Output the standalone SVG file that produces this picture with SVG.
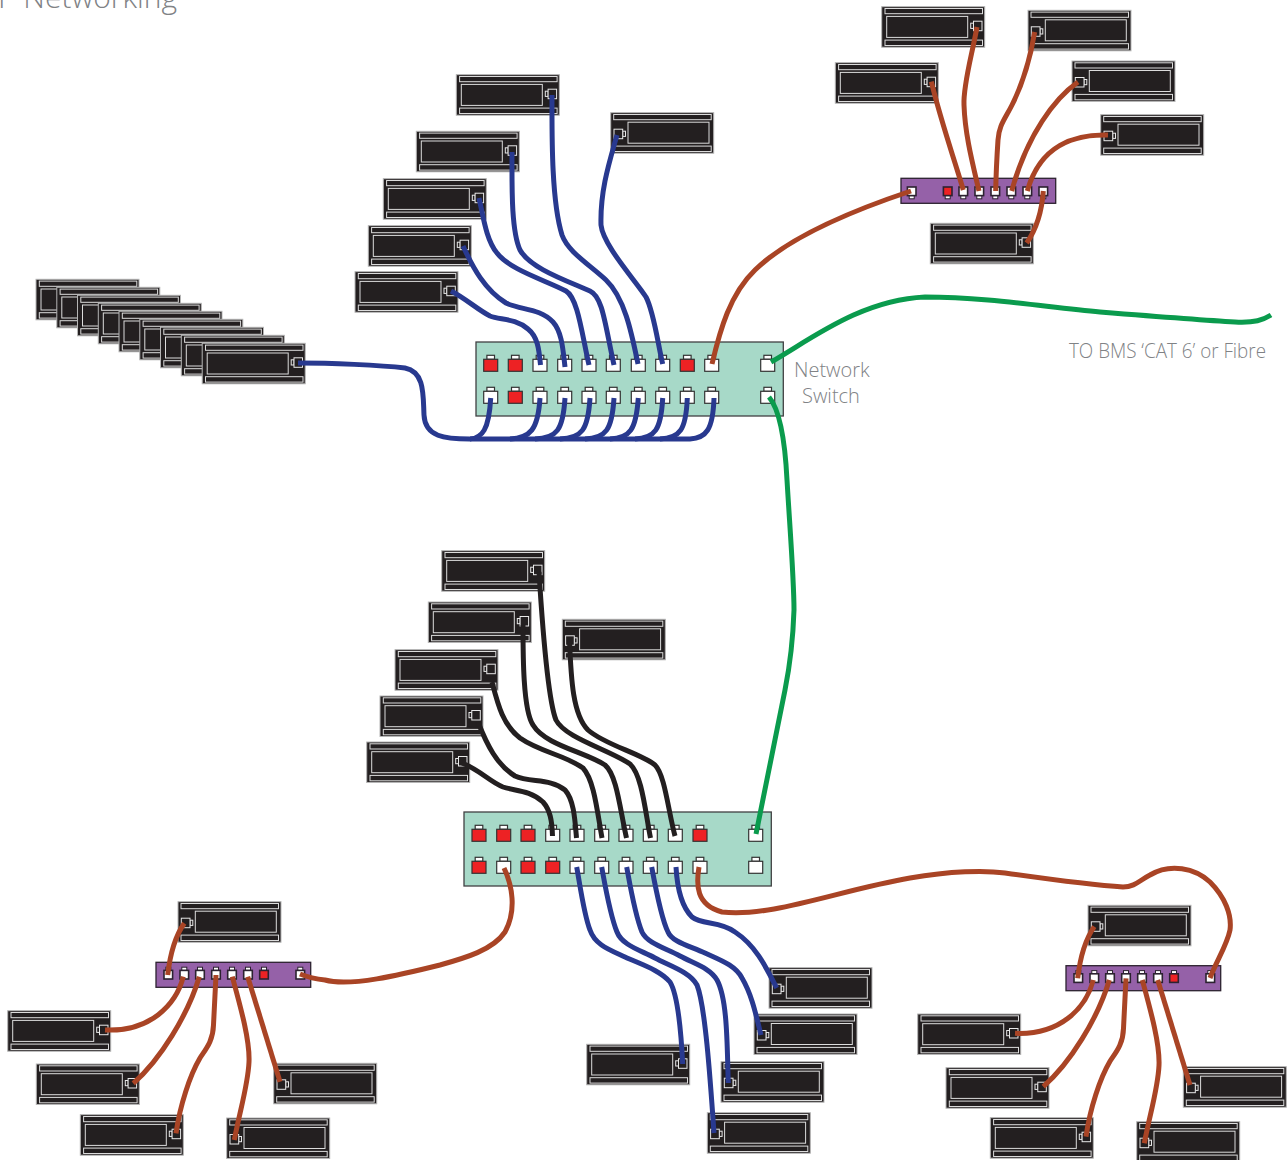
<svg xmlns="http://www.w3.org/2000/svg" width="1287" height="1160" viewBox="0 0 1287 1160">
<style>
.case{fill:#231f20;stroke:#b5b5b5;stroke-width:1}
.in{fill:none;stroke:#dcdcdc;stroke-width:1}
.pt{fill:#231f20;stroke:#e8e8e8;stroke-width:1}
.sw{fill:#a7d9c8;stroke:#414042;stroke-width:1.3}
.hub{fill:#9561a8;stroke:#2c2230;stroke-width:1.3}
.pw{fill:#fff;stroke:#333;stroke-width:1.2}
.pr{fill:#ed2224;stroke:#333;stroke-width:1.2}
.hw{fill:#fff;stroke:#2c2230;stroke-width:1.6}
.hr{fill:#ed2224;stroke:#2c2230;stroke-width:1.6}
.ht{fill:#fff;stroke:#2c2230;stroke-width:1}
.w{fill:none;stroke-width:5}
.blue{stroke:#28398f}.brown{stroke:#a94425}.black{stroke:#231f20}.green{stroke:#0a9b4d}
text{font-family:"Open Sans","Noto Sans","Liberation Sans",sans-serif;font-weight:300;fill:#808285}
</style>
<defs>
<g id="dev-r">
<rect class="case" x="0" y="0" width="103" height="40.5"/>
<rect class="in" x="3.3" y="1.8" width="97.5" height="5.2"/>
<rect class="in" x="5" y="9.7" width="81" height="21"/>
<rect class="in" x="3.3" y="33.4" width="97.5" height="5.4"/>
<rect class="pt" x="89" y="16.5" width="2.8" height="5.2"/>
<rect class="pt" x="91.8" y="14.5" width="8.5" height="9.5"/>
</g>
<g id="dev-l">
<rect class="case" x="0" y="0" width="103" height="40.5"/>
<rect class="in" x="3" y="1.8" width="97.5" height="5.2"/>
<rect class="in" x="17.3" y="9.5" width="81" height="21"/>
<rect class="in" x="3" y="33.4" width="97.5" height="5.4"/>
<rect class="pt" x="12" y="18.5" width="2.8" height="5.2"/>
<rect class="pt" x="3.3" y="16.5" width="8.7" height="9.5"/>
</g>
<g id="sp-w"><rect class="pw" x="-3.8" y="-4" width="7.6" height="4"/><rect class="pw" x="-7" y="0" width="14" height="12"/></g>
<g id="sp-r"><rect class="pw" x="-3.8" y="-4" width="7.6" height="4"/><rect class="pr" x="-7" y="0" width="14" height="12"/></g>
<g id="hp-w"><rect class="ht" x="-2.5" y="-3.2" width="5" height="3.2"/><rect class="hw" x="-4.3" y="0" width="8.6" height="8.6"/></g>
<g id="hp-r"><rect class="ht" x="-2.5" y="-3.2" width="5" height="3.2"/><rect class="hr" x="-4.3" y="0" width="8.6" height="8.6"/></g>
<g id="hq-w"><rect class="ht" x="-2.5" y="8.6" width="5" height="3.2"/><rect class="hw" x="-4.3" y="0" width="8.6" height="8.6"/></g>
<g id="hq-r"><rect class="ht" x="-2.5" y="8.6" width="5" height="3.2"/><rect class="hr" x="-4.3" y="0" width="8.6" height="8.6"/></g>
</defs>

<text id="title" x="177" y="8" font-size="30" text-anchor="end">IP Networking</text>

<g id="stack">
<g id="stack-1"><use href="#dev-r" x="36" y="279.3"/></g>
<g id="stack-2"><use href="#dev-r" x="56.8" y="287.3"/></g>
<g id="stack-3"><use href="#dev-r" x="77.5" y="295.3"/></g>
<g id="stack-4"><use href="#dev-r" x="98.3" y="303.3"/></g>
<g id="stack-5"><use href="#dev-r" x="119" y="311.3"/></g>
<g id="stack-6"><use href="#dev-r" x="139.8" y="319.3"/></g>
<g id="stack-7"><use href="#dev-r" x="160.5" y="327.3"/></g>
<g id="stack-8"><use href="#dev-r" x="181.3" y="335.3"/></g>
<g id="stack-9"><use href="#dev-r" x="202.2" y="343.3"/></g>
</g>

<g id="dev-a1"><use href="#dev-r" x="881.7" y="6.7"/></g>
<g id="dev-a2"><use href="#dev-l" x="1028" y="10.3"/></g>
<g id="dev-a3"><use href="#dev-r" x="835.3" y="62.7"/></g>
<g id="dev-a4"><use href="#dev-l" x="1072" y="61"/></g>
<g id="dev-a5"><use href="#dev-l" x="1100.7" y="114.7"/></g>
<g id="dev-a6"><use href="#dev-r" x="930.3" y="223.3"/></g>

<g id="dev-b1"><use href="#dev-r" x="456.3" y="74.7"/></g>
<g id="dev-b2"><use href="#dev-l" x="610.7" y="112.7"/></g>
<g id="dev-b3"><use href="#dev-r" x="416.3" y="131.3"/></g>
<g id="dev-b4"><use href="#dev-r" x="383.3" y="178.7"/></g>
<g id="dev-b5"><use href="#dev-r" x="368.3" y="225.7"/></g>
<g id="dev-b6"><use href="#dev-r" x="355" y="271.7"/></g>

<g id="dev-c1"><use href="#dev-r" x="441.7" y="550.7"/></g>
<g id="dev-c2"><use href="#dev-r" x="428.3" y="602"/></g>
<g id="dev-c3"><use href="#dev-l" x="562.3" y="619.3"/></g>
<g id="dev-c4"><use href="#dev-r" x="395" y="649.7"/></g>
<g id="dev-c5"><use href="#dev-r" x="380" y="696"/></g>
<g id="dev-c6"><use href="#dev-r" x="366.7" y="742"/></g>

<g id="dev-d1"><use href="#dev-l" x="769" y="967.7"/></g>
<g id="dev-d2"><use href="#dev-l" x="754" y="1014"/></g>
<g id="dev-d3"><use href="#dev-r" x="586.7" y="1044.3"/></g>
<g id="dev-d4"><use href="#dev-l" x="721" y="1061.7"/></g>
<g id="dev-d5"><use href="#dev-l" x="707.3" y="1112.7"/></g>

<g id="dev-e1"><use href="#dev-l" x="178" y="901.7"/></g>
<g id="dev-e2"><use href="#dev-r" x="7.7" y="1010.7"/></g>
<g id="dev-e3"><use href="#dev-r" x="36.3" y="1064"/></g>
<g id="dev-e4"><use href="#dev-r" x="80.3" y="1114.7"/></g>
<g id="dev-e5"><use href="#dev-l" x="273.7" y="1063.3"/></g>
<g id="dev-e6"><use href="#dev-l" x="226.7" y="1118"/></g>

<g id="dev-f1"><use href="#dev-l" x="1088" y="905.3"/></g>
<g id="dev-f2"><use href="#dev-r" x="917.7" y="1014"/></g>
<g id="dev-f3"><use href="#dev-r" x="946" y="1067.7"/></g>
<g id="dev-f4"><use href="#dev-r" x="990.3" y="1117.7"/></g>
<g id="dev-f5"><use href="#dev-l" x="1183.3" y="1066.7"/></g>
<g id="dev-f6"><use href="#dev-l" x="1136.7" y="1121.7"/></g>

<g id="switch-1">
<rect class="sw" x="476" y="342" width="307.3" height="74"/>
<use href="#sp-r" x="490.7" y="359.3"/><use href="#sp-r" x="515.3" y="359.3"/><use href="#sp-w" x="540" y="359.3"/><use href="#sp-w" x="564.7" y="359.3"/><use href="#sp-w" x="589" y="359.3"/><use href="#sp-w" x="613.3" y="359.3"/><use href="#sp-w" x="638.3" y="359.3"/><use href="#sp-w" x="662.7" y="359.3"/><use href="#sp-r" x="687.3" y="359.3"/><use href="#sp-w" x="711.7" y="359.3"/><use href="#sp-w" x="767.7" y="359.3"/>
<use href="#sp-w" x="490.7" y="391.3"/><use href="#sp-r" x="515.3" y="391.3"/><use href="#sp-w" x="540" y="391.3"/><use href="#sp-w" x="564.7" y="391.3"/><use href="#sp-w" x="589" y="391.3"/><use href="#sp-w" x="613.3" y="391.3"/><use href="#sp-w" x="638.3" y="391.3"/><use href="#sp-w" x="662.7" y="391.3"/><use href="#sp-w" x="687.3" y="391.3"/><use href="#sp-w" x="711.7" y="391.3"/><use href="#sp-w" x="767.7" y="391.3"/>
</g>

<g id="switch-2">
<rect class="sw" x="464" y="812" width="307.3" height="74"/>
<use href="#sp-r" x="479" y="829.3"/><use href="#sp-r" x="503.7" y="829.3"/><use href="#sp-r" x="528" y="829.3"/><use href="#sp-w" x="552.7" y="829.3"/><use href="#sp-w" x="577" y="829.3"/><use href="#sp-w" x="601.7" y="829.3"/><use href="#sp-w" x="626" y="829.3"/><use href="#sp-w" x="650.3" y="829.3"/><use href="#sp-w" x="675.3" y="829.3"/><use href="#sp-r" x="700" y="829.3"/><use href="#sp-w" x="755.7" y="829.3"/>
<use href="#sp-r" x="479" y="861.3"/><use href="#sp-w" x="503.7" y="861.3"/><use href="#sp-r" x="528" y="861.3"/><use href="#sp-r" x="552.7" y="861.3"/><use href="#sp-w" x="577" y="861.3"/><use href="#sp-w" x="601.7" y="861.3"/><use href="#sp-w" x="626" y="861.3"/><use href="#sp-w" x="650.3" y="861.3"/><use href="#sp-w" x="675.3" y="861.3"/><use href="#sp-w" x="700" y="861.3"/><use href="#sp-w" x="755.7" y="861.3"/>
</g>

<g id="hub-a">
<rect class="hub" x="901" y="178.3" width="154.7" height="25"/>
<use href="#hq-w" x="911.7" y="187"/><use href="#hq-r" x="947.7" y="187"/><use href="#hq-w" x="963.3" y="187"/><use href="#hq-w" x="979.3" y="187"/><use href="#hq-w" x="995.3" y="187"/><use href="#hq-w" x="1011.3" y="187"/><use href="#hq-w" x="1027.3" y="187"/><use href="#hq-w" x="1043.3" y="187"/>
</g>
<g id="hub-e">
<rect class="hub" x="156" y="962.3" width="154.7" height="25"/>
<use href="#hp-w" x="168.3" y="970.4"/><use href="#hp-w" x="184.3" y="970.4"/><use href="#hp-w" x="200" y="970.4"/><use href="#hp-w" x="216" y="970.4"/><use href="#hp-w" x="232" y="970.4"/><use href="#hp-w" x="248" y="970.4"/><use href="#hp-r" x="264" y="970.4"/><use href="#hp-w" x="300.3" y="970.4"/>
</g>
<g id="hub-f">
<rect class="hub" x="1066" y="965.7" width="154.7" height="25"/>
<use href="#hp-w" x="1078.3" y="973.8"/><use href="#hp-w" x="1094.3" y="973.8"/><use href="#hp-w" x="1110" y="973.8"/><use href="#hp-w" x="1126" y="973.8"/><use href="#hp-w" x="1142" y="973.8"/><use href="#hp-w" x="1158" y="973.8"/><use href="#hp-r" x="1174" y="973.8"/><use href="#hp-w" x="1210.3" y="973.8"/>
</g>

<g id="connectors">
<g class="w brown">
<path d="M931.3 81.7C942 125 953 155 963.3 190"/>
<path d="M977 27C972 55 963 85 964 105C965 135 973 165 979 191"/>
<path d="M1034.7 32C1030 60 1022 85 1012 105C1005 119 999 125 998 140C997 155 996 175 995.7 191"/>
<path d="M1078 82C1055 98 1027 135 1011.7 191"/>
<path d="M1108 135C1075 134 1040 145 1027.3 191"/>
<path d="M1043.3 191C1042 210 1037 228 1026.7 243"/>
<path d="M911 191C860 208 790 236 755 270C730 294 720 330 712 364"/>
<path d="M504 868C512 885 517 910 505 932C493 950 465 958 440 965C400 975 350 987 325 980C315 979 305 976 300 974"/>
<path d="M699 867C696 885 696 905 722 912C770 918 840 890 910 878C950 871 985 870 1005 873C1040 878 1090 885 1123 887C1135 887 1140 880 1150 875C1170 863 1195 868 1210 882C1225 897 1232 915 1230 930C1227 945 1217 960 1210 978"/>
</g>
<g class="w brown" id="wires-e">
<path d="M184.3 923.3C176 935 170 955 167.7 975"/>
<path d="M183.3 976.7C176 1005 150 1032 105 1030"/>
<path d="M199.3 976.7C188 1015 160 1060 133.3 1083.3"/>
<path d="M216 975L213.5 1025C213 1042 205 1050 200 1058C190 1075 180 1105 176 1133.3"/>
<path d="M232.3 976.7C240 1005 250 1040 249 1062C248 1085 240 1110 234.3 1140"/>
<path d="M247.7 976.7L280 1081.7"/>
</g>
<g class="w brown" id="wires-f" transform="translate(910 3.3)">
<path d="M184.3 923.3C176 935 170 955 167.7 975"/>
<path d="M183.3 976.7C176 1005 150 1032 105 1030"/>
<path d="M199.3 976.7C188 1015 160 1060 133.3 1083.3"/>
<path d="M216 975L213.5 1025C213 1042 205 1050 200 1058C190 1075 180 1105 176 1133.3"/>
<path d="M232.3 976.7C240 1005 250 1040 249 1062C248 1085 240 1110 234.3 1140"/>
<path d="M247.7 976.7L280 1081.7"/>
</g>
<g class="w blue">
<path d="M552 95C552 130 551 200 562 235C568 252 590 265 606 280C625 298 632 335 638 364"/>
<path d="M512 152C512 185 511 230 520 250C530 268 565 280 590 291C603 297 605 325 614 365"/>
<path d="M479 198C483 215 486 240 497 253C510 270 545 280 566 291C578 298 582 335 589 365"/>
<path d="M463 246C473 268 485 290 506 303C520 310 540 308 553 322C562 332 563 350 565 367"/>
<path d="M451 291C465 298 478 310 490 316C500 320 515 318 528 329C538 337 539 350 540.5 365"/>
<path d="M617 135C610 160 600 190 601 225C603 245 635 280 646 297C654 312 658 345 662.7 364"/>
<path d="M298 363C330 363 380 365 405 368C425 372 423 395 424 415C425 437 445 439 470 439C482 438 489 430 490.7 398"/>
<path d="M470 439L690 439C706 438 713 430 714 398"/>
<path d="M510 439C530 438 538 430 540 398"/>
<path d="M535 439C557 438 563 430 565 398"/>
<path d="M560 439C582 438 588 430 590 398"/>
<path d="M585 439C606 438 612 430 614 398"/>
<path d="M610 439C630 438 636 430 638.3 398"/>
<path d="M635 439C655 438 661 430 662.7 398"/>
<path d="M660 439C680 438 686 430 687.3 398"/>
<path d="M576.7 867C580 885 584 915 590 930C595 945 610 950 625 957C640 964 660 970 670 982C678 995 681 1030 682.7 1064"/>
<path d="M601.7 867C605 885 610 915 617 932C622 945 640 950 655 958C670 966 690 972 697 985C705 1005 710 1075 714 1133"/>
<path d="M626.7 867C630 885 635 915 642 932C647 943 665 948 680 956C695 964 710 968 717 980C728 1000 727 1050 728.3 1083"/>
<path d="M651.7 867C655 885 662 920 668 932C672 942 690 946 705 953C720 960 735 965 742 978C752 995 756 1015 761 1035"/>
<path d="M676 867C677 885 680 905 692 917C702 925 720 921 735 932C755 945 765 965 776.7 988"/>
</g>
<g class="w black">
<path d="M462 763C480 770 490 782 503 787C515 791 530 790 543 802C550 810 552 820 552.5 836"/>
<path d="M478 722C487 745 497 765 515 776C530 783 550 778 565 790C574 800 575 820 576.5 838"/>
<path d="M492 682C498 705 503 725 520 738C540 752 565 755 583 768C594 780 597 810 602 838"/>
<path d="M523 625C523 655 523 710 533 725C545 745 585 752 605 765C617 775 620 810 626.5 838"/>
<path d="M539 572C542 620 548 700 556 720C565 738 610 750 630 764C642 775 645 810 650.5 838"/>
<path d="M569.5 640C571 680 573 715 588 730C605 745 640 753 655 765C665 775 668 810 675 836"/>
</g>
<g class="w green">
<path d="M771 362C810 340 860 300 925 297C990 297 1050 308 1100 312C1150 316 1200 320 1235 322C1255 323 1263 320 1271 315"/>
<path d="M769 397C780 410 785 440 787 480C790 530 794 580 794 610C793 640 790 665 785 690C775 740 765 790 756 834"/>
</g>
</g>

<text id="label-network" x="794" y="377" font-size="20">Network</text>
<text id="label-switch" x="802" y="403" font-size="20">Switch</text>
<text id="label-bms" x="1069" y="358" font-size="20" textLength="197" lengthAdjust="spacingAndGlyphs">TO BMS ‘CAT 6’ or Fibre</text>
</svg>
